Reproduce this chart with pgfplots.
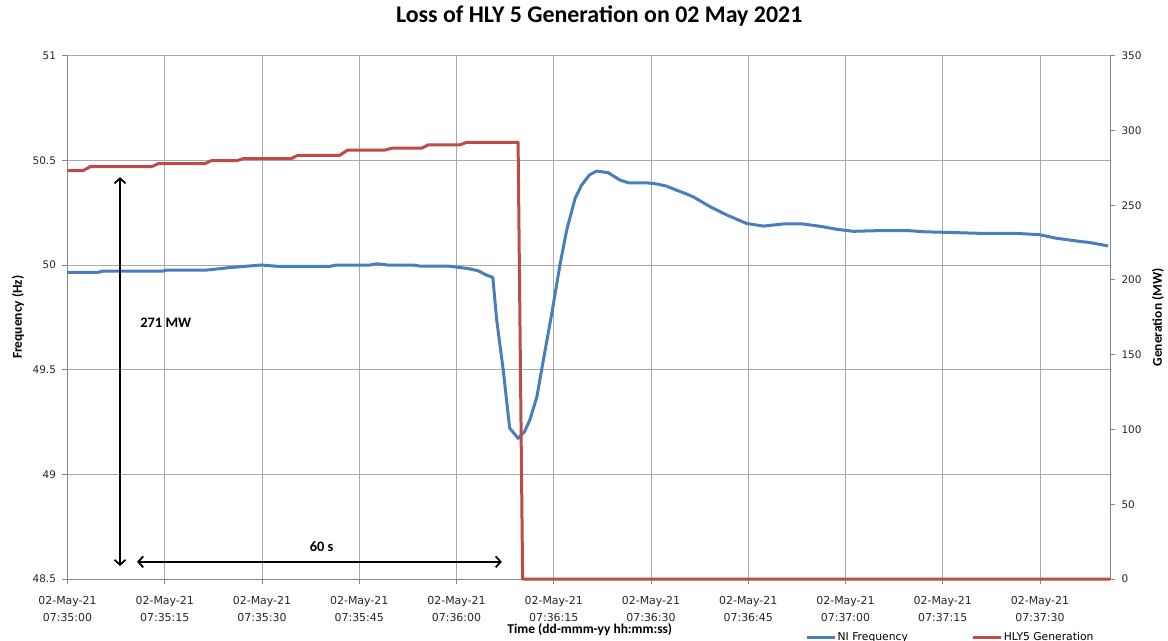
\documentclass[border=0pt]{standalone}
\usepackage{fontspec}
\setmainfont{Carlito}
\newfontfamily\dejavu{DejaVu Sans}
\usepackage{pgfplots}
\pgfplotsset{compat=1.18}
\usetikzlibrary{arrows.meta}
\definecolor{nifreq}{RGB}{74,126,187}
\definecolor{hlygen}{RGB}{190,75,72}
\definecolor{gridc}{RGB}{170,170,170}
\definecolor{axc}{RGB}{134,134,134}
\newcommand{\tlfont}{\dejavu\fontsize{10.5}{17}\selectfont}
\newcommand{\xtlfont}{\dejavu\fontsize{11}{17}\selectfont}
\begin{document}
\begin{tikzpicture}
\useasboundingbox (-67.5bp,-62bp) rectangle (1100.5bp,579bp);
\begin{axis}[
  at={(0,0)}, anchor=south west,
  scale only axis, width=1042.5bp, height=523.3bp,
  xmin=0, xmax=160.8, ymin=48.5, ymax=51,
  axis lines*=left,
  axis line style={axc, line width=1bp},
  tick style={axc, line width=1bp},
  tick align=outside, major tick length=5bp,
  grid=major, major grid style={gridc, line width=1bp},
  xtick={0,15,...,150},
  xticklabels={{02-May-21\\07:35:00},{02-May-21\\07:35:15},{02-May-21\\07:35:30},{02-May-21\\07:35:45},{02-May-21\\07:36:00},{02-May-21\\07:36:15},{02-May-21\\07:36:30},{02-May-21\\07:36:45},{02-May-21\\07:37:00},{02-May-21\\07:37:15},{02-May-21\\07:37:30}},
  ytick={48.5,49,49.5,50,50.5,51},
  yticklabels={48.5,49,49.5,50,50.5,51},
  /pgf/number format/assume math mode=true,
  tick label style={font=\tlfont, text=black!85},
  xticklabel style={font=\xtlfont, align=center, yshift=-9bp},
  yticklabel style={font=\tlfont, xshift=-3bp},
  title={Loss of HLY 5 Generation on 02 May 2021},
  title style={at={(axis description cs:0.51,1.0644)}, anchor=center, font=\bfseries\fontsize{24}{28}\selectfont},
  xlabel={Time (dd-mmm-yy hh:mm:ss)},
  xlabel style={at={(axis description cs:0.501,-0.0975)}, anchor=center, font=\bfseries\fontsize{13.5}{16}\selectfont},
  ylabel={Frequency (Hz)},
  ylabel style={at={(axis description cs:-0.0475,0.5)}, anchor=center, rotate=0, font=\bfseries\fontsize{13.5}{16}\selectfont},
]
\addplot[nifreq, line width=3bp, line join=round, mark=none] coordinates {
(0,49.965)(4.7,49.965)(5.5,49.971)(14.7,49.971)(15.3,49.976)(21.5,49.976)(25.1,49.988)(29.9,50.000)(32.3,49.994)(40.5,49.994)(41.5,50.000)(46.6,50.000)(47.7,50.006)(49.4,50.000)(53.3,50.000)(54.4,49.995)(58.7,49.995)(61.6,49.984)(63.3,49.973)(64.6,49.952)(65.6,49.941)(66.2,49.737)(67.2,49.500)(68.2,49.221)(69.5,49.172)(70.5,49.204)(71.3,49.259)(72.4,49.371)(73.4,49.546)(74.7,49.769)(76.0,50.008)(77.0,50.167)(78.3,50.319)(79.3,50.382)(80.5,50.430)(81.6,50.449)(83.4,50.441)(85.2,50.406)(86.5,50.393)(89.3,50.393)(90.9,50.387)(92.4,50.377)(93.9,50.358)(95.5,50.339)(96.5,50.326)(99.1,50.279)(101.7,50.239)(104.7,50.199)(107.3,50.186)(110.4,50.196)(113.5,50.196)(116.5,50.183)(118.6,50.171)(121.2,50.161)(124.8,50.164)(129.9,50.164)(132.0,50.159)(141.2,50.151)(146.4,50.151)(149.9,50.145)(152.5,50.128)(156.6,50.111)(157.6,50.108)(160.5,50.091)
};
\draw[black, line width=1.8bp, {Straight Barb[length=5bp,width=11bp]}-{Straight Barb[length=5bp,width=11bp]}] (axis cs:8.1,50.42) -- (axis cs:8.1,48.562);
\draw[black, line width=1.8bp, {Straight Barb[length=5bp,width=11bp]}-{Straight Barb[length=5bp,width=11bp]}] (axis cs:10.72,48.582) -- (axis cs:67.0,48.582);
\node[anchor=west, font=\bfseries\fontsize{14.5}{17}\selectfont, inner sep=0pt] at (axis cs:11.2,49.723) {271 MW};
\node[anchor=center, font=\bfseries\fontsize{14.5}{17}\selectfont, inner sep=0pt] at (axis cs:39.2,48.657) {60 s};
\end{axis}
\begin{axis}[
  at={(0,0)}, anchor=south west,
  scale only axis, width=1042.5bp, height=523.3bp,
  xmin=0, xmax=160.8, ymin=0, ymax=350,
  clip=false,
  axis x line=none, axis y line*=right,
  axis line style={axc, line width=1bp},
  tick style={axc, line width=1bp},
  tick align=outside, major tick length=5bp,
  ytick={0,50,...,350},
  yticklabels={0,50,100,150,200,250,300,350},
  /pgf/number format/assume math mode=true,
  tick label style={font=\tlfont, text=black!85},
  yticklabel style={font=\tlfont, xshift=3bp},
  ylabel={Generation (MW)},
  ylabel style={at={(axis description cs:1.046,0.5)}, anchor=center, rotate=0, font=\bfseries\fontsize{13.5}{16}\selectfont},
  legend columns=2,
  legend style={at={(axis description cs:0.7074,-0.111)}, anchor=west, draw=none, fill=none, inner sep=0pt, font=\dejavu\fontsize{10.8}{13}\selectfont, nodes={inner sep=1.5bp}, /tikz/every even column/.append style={column sep=62bp}},
  legend image code/.code={\draw[#1] (0bp,0bp) -- (28bp,0bp);},
]
\addlegendimage{nifreq, line width=3bp}
\addlegendentry{NI Frequency}
\addplot[hlygen, line width=3bp, line join=round, mark=none] coordinates {
(0,273.1)(2.4,273.1)(3.5,275.8)(13.0,275.8)(14.0,277.8)(21.2,277.8)(22.2,279.8)(26.1,279.8)(27.1,281.1)(34.5,281.1)(35.5,283.4)(42.0,283.4)(43.2,286.9)(49.0,286.9)(50.0,288.1)(54.6,288.1)(55.6,290.3)(60.5,290.3)(61.6,292.1)(69.5,292.1)(70.2,0)(160.8,0)
};
\addlegendentry{HLY5 Generation}
\end{axis}
\end{tikzpicture}
\end{document}
